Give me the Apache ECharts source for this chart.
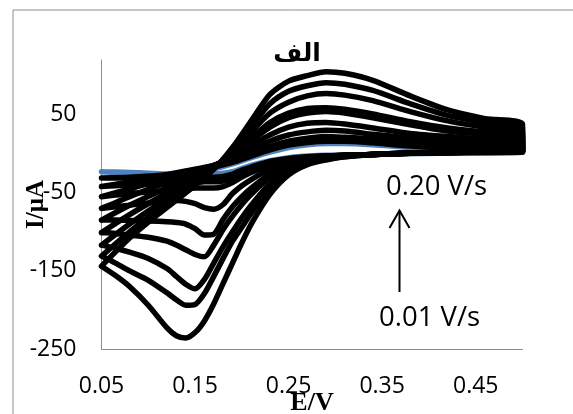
<!DOCTYPE html>
<html>
<head>
<meta charset="utf-8">
<script src="https://cdn.jsdelivr.net/npm/echarts@6/dist/echarts.min.js"></script>
<style>html,body{margin:0;padding:0;background:#fff}#c{width:573px;height:414px}</style>
</head>
<body>
<div id="c"></div>
<script>
// Forward (anodic) scan potentials, V
const fwdE = [0.05, 0.08, 0.11, 0.14, 0.17, 0.19, 0.21, 0.23, 0.25, 0.27, 0.29, 0.31, 0.34, 0.38, 0.42, 0.46, 0.50];
// Reverse (cathodic) scan potentials, V
const revE = [0.50, 0.44, 0.38, 0.34, 0.31, 0.29, 0.27, 0.25, 0.23, 0.21, 0.20, 0.19, 0.18, 0.17, 0.16, 0.15, 0.14, 0.13, 0.12, 0.10, 0.08, 0.065, 0.05];

// Currents, µA (blue = first series, then black loops from largest to smallest)
const blueFwd = [-23, -25, -26, -24, -19, -13, -5, 2, 8, 11.5, 13, 13, 11.5, 8, 6, 5, 4];
const blueRev = [2, 1, 0, -1, -2, -2, -3, -5, -9, -15, -19, -23, -25, -26, -27, -27, -27, -26, -26, -25, -24, -23.5, -23];

const fwd1 = [-144, -108, -78, -50, -20, 8, 42, 76, 93, 100, 105, 103, 94, 74, 56, 45, 38];
const rev1 = [4, 3, 1, -1, -4, -8, -14, -27, -52, -90, -114, -140, -166, -192, -214, -229, -236, -233, -223, -194, -170, -156, -144];
const fwd2 = [-131, -100, -72, -46, -19, 5, 35, 64, 80, 87, 91, 89, 81, 64, 49, 40, 34];
const rev2 = [4, 3, 1, -1, -4, -7, -12, -23, -44, -76, -94, -112, -134, -157, -179, -193, -194, -187, -178, -162, -150, -140, -131];
const fwd3 = [-117, -90, -65, -42, -18, 2, 28, 52, 66, 74, 77, 75, 68, 54, 42, 34, 29];
const rev3 = [3.5, 2.5, 1, -1, -3, -6, -11, -20, -38, -66, -82, -100, -119, -140, -161, -173, -167, -157, -147, -134, -126, -121, -117];
const fwd4 = [-101, -78, -57, -37, -17, 0, 20, 40, 52, 58, 59, 57, 51, 41, 33, 28, 25];
const rev4 = [3.5, 2.5, 1, -1, -3, -5, -9, -16, -30, -52, -65, -80, -97, -117, -132, -129, -123, -117, -112, -107, -104, -102, -101];
const fwd5 = [-85, -66, -49, -32, -16, -2, 16, 34, 46, 52, 54, 52, 46, 37, 29, 25, 22];
const rev5 = [3, 2, 1, -1, -2, -4, -8, -14, -26, -44, -55, -68, -84, -103, -104, -96, -90, -88, -87, -86, -85.5, -85, -85];
const fwd6 = [-70, -55, -41, -28, -15, -4, 10, 24, 34, 39, 40, 38, 33, 26, 22, 19, 18];
const rev6 = [3, 2, 1, -1, -2, -3, -6, -11, -20, -33, -41, -51, -65, -71, -69, -64, -61, -60, -61, -63, -66, -68, -70];
const fwd7 = [-55, -45, -35, -25, -15, -6, 5, 16, 24, 28, 30, 29, 25, 20, 17, 15, 14];
const rev7 = [2.5, 2, 0.5, -1, -2, -3, -5, -9, -15, -24, -30, -37, -42, -44, -44, -44, -45, -46, -47, -49, -51, -53, -55];
const fwd8 = [-42, -36, -29, -22, -15, -8, 0, 9, 16, 20, 22, 21, 19, 15, 12, 11, 10];
const rev8 = [2.5, 1.5, 0.5, -1, -2, -3, -4, -7, -12, -20, -25, -31, -35, -36, -36, -37, -37, -38, -38, -39, -40, -41, -42];
const fwd9 = [-31, -30, -28, -24, -17, -11, -3, 5, 11, 14.5, 16, 16, 14, 10, 8, 7, 6];
const rev9 = [2, 1.5, 0.5, -1, -2, -2.5, -4, -6, -10, -17, -21, -26, -29, -30, -30, -31, -31, -31, -31, -31, -31, -31, -31];

const xTicks = [0.05, 0.15, 0.25, 0.35, 0.45];
const yTicks = [-250, -150, -50, 50];

function loop(f, r) {
  const pts = [];
  for (let i = 0; i < fwdE.length; i++) pts.push([fwdE[i], f[i]]);
  for (let i = 0; i < revE.length; i++) pts.push([revE[i], r[i]]);
  return pts;
}

const loops = [
  [blueFwd, blueRev, '#4F81BD'],
  [fwd1, rev1, '#000'], [fwd2, rev2, '#000'], [fwd3, rev3, '#000'],
  [fwd4, rev4, '#000'], [fwd5, rev5, '#000'], [fwd6, rev6, '#000'],
  [fwd7, rev7, '#000'], [fwd8, rev8, '#000'], [fwd9, rev9, '#000']
];

const chart = echarts.init(document.getElementById('c'), null, {renderer: 'canvas'});
const axisFont = {fontFamily: 'Open Sans', fontSize: 23, color: '#000'};

chart.setOption({
  animation: false,
  backgroundColor: '#fff',
  title: {
    text: 'الف', left: 292, top: 37, textAlign: 'center',
    textStyle: {fontFamily: 'DejaVu Sans', fontWeight: 'bold', fontSize: 25, color: '#000'}
  },
  grid: {left: 101.5, right: 50.5, top: 60, bottom: 65, outerBoundsMode: 'none'},
  xAxis: {
    type: 'value', min: 0.05, max: 0.5, interval: 0.1,
    name: 'E/V', nameLocation: 'middle', nameGap: 41, nameMoveOverlap: false,
    nameTextStyle: {fontFamily: 'Liberation Serif', fontWeight: 'bold', fontSize: 26, color: '#000'},
    axisLine: {show: true, onZero: false, lineStyle: {color: '#8c8c8c', width: 1}},
    axisTick: {show: false}, splitLine: {show: false},
    axisLabel: Object.assign({margin: 26, showMaxLabel: false,
      formatter: v => { const t = xTicks.find(k => Math.abs(k - v) < 1e-6); return t === undefined ? '' : t.toFixed(2); }}, axisFont)
  },
  yAxis: {
    type: 'value', min: -250, max: 120, interval: 100,
    name: 'I/μA', nameLocation: 'middle', nameGap: 52, nameRotate: 90, nameMoveOverlap: false,
    nameTextStyle: {fontFamily: 'Liberation Serif', fontWeight: 'bold', fontSize: 25, color: '#000'},
    axisLine: {show: true, onZero: false, lineStyle: {color: '#8c8c8c', width: 1}},
    axisTick: {show: false}, splitLine: {show: false},
    axisLabel: Object.assign({margin: 25, showMaxLabel: false,
      formatter: v => { const t = yTicks.find(k => Math.abs(k - v) < 1e-6); return t === undefined ? '' : String(t); }}, axisFont)
  },
  series: loops.map(l => ({
    type: 'line', data: loop(l[0], l[1]), showSymbol: false, symbol: 'none',
    smooth: 0.25, clip: false,
    lineStyle: {color: l[2], width: 5.5, cap: 'round', join: 'round'}
  })),
  graphic: [
    {type: 'rect', shape: {x: 13, y: 10, width: 620, height: 440}, style: {fill: 'none', stroke: '#8c8c8c', lineWidth: 1}, silent: true, z: -1},
    {type: 'text', left: 386, top: 173, style: {text: '0.20 V/s', fontFamily: 'Open Sans', fontSize: 27.5, fill: '#000'}, z: 10},
    {type: 'rect', shape: {x: 382, y: 199, width: 115, height: 9}, style: {fill: '#fff'}, z: 11},
    {type: 'text', left: 379, top: 304, style: {text: '0.01 V/s', fontFamily: 'Open Sans', fontSize: 27.5, fill: '#000'}, z: 10},
    {type: 'rect', shape: {x: 375, y: 330, width: 115, height: 9}, style: {fill: '#fff'}, z: 11},
    {type: 'line', shape: {x1: 399.5, y1: 292, x2: 399.5, y2: 211}, style: {stroke: '#000', lineWidth: 2}, z: 10},
    {type: 'polyline', shape: {points: [[389.5, 228], [399.5, 210.5], [409.5, 228]]}, style: {stroke: '#000', lineWidth: 2, fill: 'none'}, z: 10}
  ]
});
</script>
</body>
</html>
